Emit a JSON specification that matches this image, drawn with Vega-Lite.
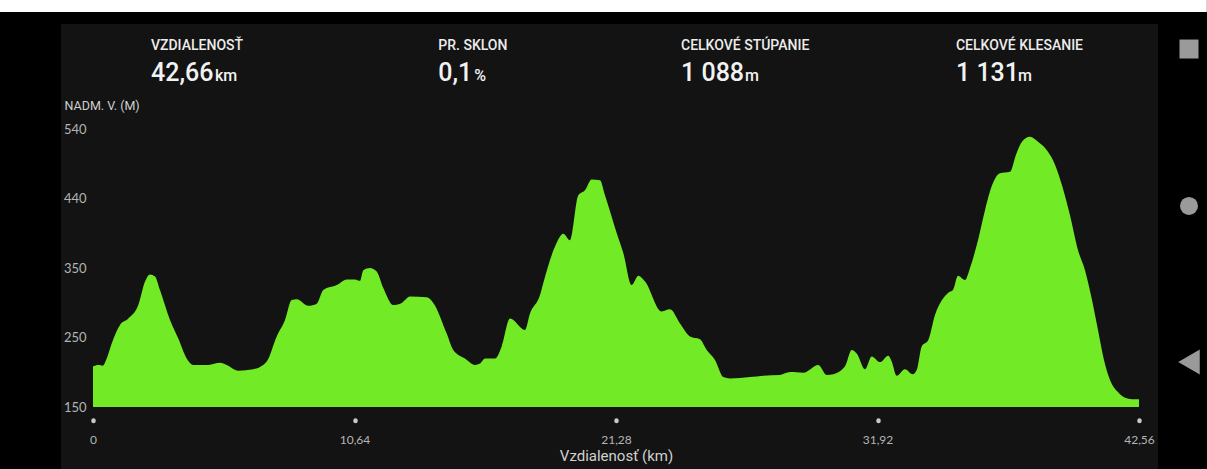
{
  "$schema": "https://vega.github.io/schema/vega-lite/v6.json",
  "width": 1046,
  "height": 278,
  "autosize": {"type": "none"},
  "padding": {"left": 93, "top": 129, "right": 68, "bottom": 62},
  "background": "#000000",
  "config": {"view": {"stroke": null}},
  "layer": [
    {
      "data": {"values": [{"part": "status bar"}]},
      "mark": {"type": "rect", "color": "#ffffff"},
      "encoding": {"x": {"datum": -3.784}, "x2": {"datum": 45.32}, "y": {"datum": 721.0}, "y2": {"datum": 704.1}}
    },
    {
      "data": {"values": [{"part": "panel"}]},
      "mark": {"type": "rect", "color": "#131313"},
      "encoding": {"x": {"datum": -1.302}, "x2": {"datum": 43.333}, "y": {"datum": 687.3}, "y2": {"datum": 63.0}}
    },
    {
      "data": {"values": [
        {"d": 0, "e": 207}, {"d": 0.216, "e": 209}, {"d": 0.395, "e": 208}, {"d": 0.557, "e": 218}, {"d": 0.761, "e": 239},
        {"d": 1.099, "e": 265}, {"d": 1.436, "e": 274}, {"d": 1.843, "e": 293}, {"d": 2.116, "e": 326}, {"d": 2.319, "e": 336},
        {"d": 2.523, "e": 333}, {"d": 2.726, "e": 314}, {"d": 3.133, "e": 272}, {"d": 3.471, "e": 246}, {"d": 3.812, "e": 218},
        {"d": 4.081, "e": 209}, {"d": 4.691, "e": 209}, {"d": 5.167, "e": 212}, {"d": 5.44, "e": 209}, {"d": 5.912, "e": 201},
        {"d": 6.522, "e": 203}, {"d": 7.068, "e": 214}, {"d": 7.474, "e": 249}, {"d": 7.812, "e": 272}, {"d": 8.085, "e": 300},
        {"d": 8.288, "e": 301}, {"d": 8.76, "e": 292}, {"d": 9.102, "e": 295}, {"d": 9.37, "e": 314}, {"d": 9.916, "e": 321},
        {"d": 10.323, "e": 329}, {"d": 10.661, "e": 329}, {"d": 10.864, "e": 327}, {"d": 10.998, "e": 342}, {"d": 11.271, "e": 345},
        {"d": 11.543, "e": 340}, {"d": 11.812, "e": 317}, {"d": 12.219, "e": 293}, {"d": 12.56, "e": 296}, {"d": 12.898, "e": 305},
        {"d": 13.578, "e": 304}, {"d": 13.846, "e": 296}, {"d": 14.392, "e": 253}, {"d": 14.66, "e": 230}, {"d": 15.136, "e": 218},
        {"d": 15.543, "e": 209}, {"d": 15.747, "e": 211}, {"d": 15.95, "e": 218}, {"d": 16.357, "e": 218}, {"d": 16.629, "e": 235},
        {"d": 16.967, "e": 274}, {"d": 17.577, "e": 258}, {"d": 17.781, "e": 281}, {"d": 18.188, "e": 307}, {"d": 18.322, "e": 324},
        {"d": 18.798, "e": 375}, {"d": 19.136, "e": 393}, {"d": 19.408, "e": 384}, {"d": 19.746, "e": 447}, {"d": 20.018, "e": 454},
        {"d": 20.291, "e": 469}, {"d": 20.629, "e": 468}, {"d": 20.832, "e": 447}, {"d": 21.308, "e": 394}, {"d": 21.577, "e": 366},
        {"d": 21.919, "e": 321}, {"d": 22.187, "e": 334}, {"d": 22.46, "e": 326}, {"d": 23.139, "e": 284}, {"d": 23.477, "e": 287},
        {"d": 23.884, "e": 267}, {"d": 24.291, "e": 249}, {"d": 24.698, "e": 245}, {"d": 24.971, "e": 230}, {"d": 25.308, "e": 216},
        {"d": 25.646, "e": 192}, {"d": 25.918, "e": 190}, {"d": 26.732, "e": 192}, {"d": 27.273, "e": 194}, {"d": 27.953, "e": 195},
        {"d": 28.36, "e": 199}, {"d": 28.901, "e": 198}, {"d": 29.511, "e": 209}, {"d": 29.853, "e": 195}, {"d": 30.122, "e": 196},
        {"d": 30.598, "e": 207}, {"d": 30.87, "e": 230}, {"d": 31.074, "e": 225}, {"d": 31.411, "e": 203}, {"d": 31.684, "e": 221},
        {"d": 32.022, "e": 213}, {"d": 32.359, "e": 222}, {"d": 32.498, "e": 214}, {"d": 32.701, "e": 194}, {"d": 33.039, "e": 203},
        {"d": 33.352, "e": 196}, {"d": 33.515, "e": 202}, {"d": 33.718, "e": 235}, {"d": 33.987, "e": 244}, {"d": 34.259, "e": 279},
        {"d": 34.544, "e": 300}, {"d": 34.789, "e": 310}, {"d": 34.992, "e": 314}, {"d": 35.196, "e": 334}, {"d": 35.48, "e": 328},
        {"d": 35.684, "e": 345}, {"d": 36.009, "e": 384}, {"d": 36.294, "e": 426}, {"d": 36.579, "e": 461}, {"d": 36.904, "e": 478},
        {"d": 37.311, "e": 480}, {"d": 37.555, "e": 504}, {"d": 37.799, "e": 522}, {"d": 38.125, "e": 529}, {"d": 38.45, "e": 522},
        {"d": 38.857, "e": 508}, {"d": 39.142, "e": 490}, {"d": 39.427, "e": 461}, {"d": 39.752, "e": 419}, {"d": 40.078, "e": 370},
        {"d": 40.363, "e": 342}, {"d": 40.648, "e": 300}, {"d": 40.892, "e": 258}, {"d": 41.136, "e": 216}, {"d": 41.38, "e": 188},
        {"d": 41.705, "e": 171}, {"d": 41.99, "e": 163}, {"d": 42.275, "e": 161}, {"d": 42.56, "e": 161}
      ]},
      "mark": {"type": "area", "color": "#72EA25", "interpolate": "monotone", "opacity": 1},
      "encoding": {
        "x": {
          "field": "d", "type": "quantitative",
          "scale": {"domain": [0, 42.56], "nice": false, "zero": false},
          "axis": {
            "zindex": 2,
            "values": [0, 10.64, 21.28, 31.92, 42.56],
            "labelExpr": "datum.value == 0 ? '0' : replace(format(datum.value, '.2f'), '.', ',')",
            "domain": false, "grid": false,
            "ticks": true, "tickSize": 0.5, "tickWidth": 4.5, "tickCap": "round", "tickColor": "#c8c8c8",
            "offset": 13,
            "labelPadding": 14, "labelFlush": false, "labelOverlap": false, "labelBound": false,
            "labelFont": "Lato", "labelFontSize": 12, "labelColor": "#b4b4b4",
            "title": "Vzdialenosť (km)", "titleFont": "Roboto", "titleFontSize": 15, "titleFontWeight": "normal",
            "titleColor": "#d0d0d0", "titlePadding": 3
          }
        },
        "y": {
          "field": "e", "type": "quantitative",
          "scale": {"domain": [150, 540], "nice": false, "zero": false},
          "axis": {
            "zindex": 2,
            "values": [150, 247.5, 345, 442.5, 540],
            "labelExpr": "format(round(datum.value / 10) * 10, 'd')",
            "domain": false, "grid": false, "ticks": false,
            "labelPadding": 7, "labelFont": "Lato", "labelFontSize": 13, "labelColor": "#b4b4b4",
            "labelBaseline": "middle", "labelOverlap": false, "labelFlush": false, "labelBound": false,
            "title": "NADM. V. (M)", "titleAngle": 0, "titleAlign": "left", "titleBaseline": "middle",
            "titleX": -29, "titleY": -24, "titleFont": "Roboto", "titleFontSize": 12.5, "titleFontWeight": "normal",
            "titleColor": "#cfcfcf"
          }
        },
        "y2": {"datum": 150}
      }
    },
    {
      "data": {"values": [{"label": "VZDIALENOSŤ", "value": "42,66", "unit": "km"}]},
      "layer": [
        {"mark": {"type": "text", "align": "left", "baseline": "alphabetic", "font": "Roboto", "fontSize": 14, "fontWeight": 500, "color": "#ececec"},
         "encoding": {"x": {"datum": 2.36}, "y": {"datum": 650.8}, "text": {"field": "label"}}},
        {"mark": {"type": "text", "align": "left", "baseline": "alphabetic", "font": "Roboto", "fontSize": 25, "fontWeight": 500, "color": "#f2f2f2"},
         "encoding": {"x": {"datum": 2.36}, "y": {"datum": 607.3}, "text": {"field": "value"}}},
        {"mark": {"type": "text", "align": "left", "baseline": "alphabetic", "font": "Roboto", "fontSize": 16, "fontWeight": 500, "color": "#f2f2f2", "dx": 64},
         "encoding": {"x": {"datum": 2.36}, "y": {"datum": 607.3}, "text": {"field": "unit"}}}
      ]
    },
    {
      "data": {"values": [{"label": "PR. SKLON", "value": "0,1", "unit": "%"}]},
      "layer": [
        {"mark": {"type": "text", "align": "left", "baseline": "alphabetic", "font": "Roboto", "fontSize": 14, "fontWeight": 500, "color": "#ececec"},
         "encoding": {"x": {"datum": 14.05}, "y": {"datum": 650.8}, "text": {"field": "label"}}},
        {"mark": {"type": "text", "align": "left", "baseline": "alphabetic", "font": "Roboto", "fontSize": 25, "fontWeight": 500, "color": "#f2f2f2"},
         "encoding": {"x": {"datum": 14.05}, "y": {"datum": 607.3}, "text": {"field": "value"}}},
        {"mark": {"type": "text", "align": "left", "baseline": "alphabetic", "font": "Roboto", "fontSize": 16, "fontWeight": 500, "color": "#f2f2f2", "dx": 36},
         "encoding": {"x": {"datum": 14.05}, "y": {"datum": 607.3}, "text": {"field": "unit"}}}
      ]
    },
    {
      "data": {"values": [{"label": "CELKOVÉ STÚPANIE", "value": "1 088", "unit": "m"}]},
      "layer": [
        {"mark": {"type": "text", "align": "left", "baseline": "alphabetic", "font": "Roboto", "fontSize": 14, "fontWeight": 500, "color": "#ececec"},
         "encoding": {"x": {"datum": 23.925}, "y": {"datum": 650.8}, "text": {"field": "label"}}},
        {"mark": {"type": "text", "align": "left", "baseline": "alphabetic", "font": "Roboto", "fontSize": 25, "fontWeight": 500, "color": "#f2f2f2"},
         "encoding": {"x": {"datum": 23.925}, "y": {"datum": 607.3}, "text": {"field": "value"}}},
        {"mark": {"type": "text", "align": "left", "baseline": "alphabetic", "font": "Roboto", "fontSize": 16, "fontWeight": 500, "color": "#f2f2f2", "dx": 64},
         "encoding": {"x": {"datum": 23.925}, "y": {"datum": 607.3}, "text": {"field": "unit"}}}
      ]
    },
    {
      "data": {"values": [{"label": "CELKOVÉ KLESANIE", "value": "1 131", "unit": "m"}]},
      "layer": [
        {"mark": {"type": "text", "align": "left", "baseline": "alphabetic", "font": "Roboto", "fontSize": 14, "fontWeight": 500, "color": "#ececec"},
         "encoding": {"x": {"datum": 35.113}, "y": {"datum": 650.8}, "text": {"field": "label"}}},
        {"mark": {"type": "text", "align": "left", "baseline": "alphabetic", "font": "Roboto", "fontSize": 25, "fontWeight": 500, "color": "#f2f2f2"},
         "encoding": {"x": {"datum": 35.113}, "y": {"datum": 607.3}, "text": {"field": "value"}}},
        {"mark": {"type": "text", "align": "left", "baseline": "alphabetic", "font": "Roboto", "fontSize": 16, "fontWeight": 500, "color": "#f2f2f2", "dx": 62},
         "encoding": {"x": {"datum": 35.113}, "y": {"datum": 607.3}, "text": {"field": "unit"}}}
      ]
    },
    {
      "data": {"values": [{"icon": "recent"}]},
      "mark": {"type": "point", "shape": "square", "filled": true, "size": 361, "color": "#9a9a9a", "opacity": 1},
      "encoding": {"x": {"datum": 44.594}, "y": {"datum": 652.2}}
    },
    {
      "data": {"values": [{"icon": "home"}]},
      "mark": {"type": "point", "shape": "circle", "filled": true, "size": 324, "color": "#9a9a9a", "opacity": 1},
      "encoding": {"x": {"datum": 44.594}, "y": {"datum": 432.0}}
    },
    {
      "data": {"values": [{"icon": "back"}]},
      "mark": {"type": "point", "shape": "triangle-left", "filled": true, "size": 620, "color": "#9a9a9a", "opacity": 1},
      "encoding": {"x": {"datum": 44.594}, "y": {"datum": 213.1}}
    }
  ]
}
